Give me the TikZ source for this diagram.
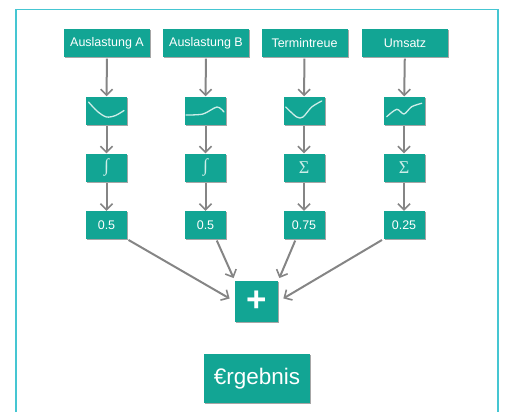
\documentclass[tikz,border=0pt]{standalone}
\usepackage{fontspec}
\setmainfont{Liberation Sans}
\newfontfamily\symfont{Liberation Serif}
\usetikzlibrary{arrows.meta,shadows}
\definecolor{boxteal}{HTML}{12A594}
\definecolor{frameblue}{HTML}{45C6D2}
\definecolor{arrowgray}{HTML}{858585}
\definecolor{curvelight}{HTML}{CDEDE8}
\tikzset{
  tealbox/.style={fill=boxteal,text=white,inner sep=0pt,drop shadow={shadow xshift=1pt,shadow yshift=-1pt,fill=black,opacity=0.35}},
  kpibox/.style={tealbox,minimum width=86pt,minimum height=28pt,font=\fontsize{12.5}{14}\selectfont},
  smallbox/.style={tealbox,minimum width=41pt,minimum height=28pt,font=\fontsize{12.5}{14}\selectfont},
  flow/.style={draw=arrowgray,line width=2pt,-{Straight Barb[length=6pt,width=12pt,line width=1.6pt]},shorten <=1.5pt},
  curveline/.style={draw=curvelight,line width=1.3pt,line cap=round}
}
\begin{document}
\begin{tikzpicture}[x=1pt,y=-1pt]
  \useasboundingbox (0,0) rectangle (505,412);
  \draw[frameblue,line width=1.3pt] (16,412)--(16,9.5)--(498,9.5)--(498,412);
  \foreach \i/\xk/\xs/\lab/\sym/\val in {1/107/106.5/Auslastung A/∫/0.5,
      2/206/205.5/Auslastung B/∫/0.5,
      3/304.5/304/Termintreue/Σ/0.75,
      4/405/404/Umsatz/Σ/0.25}{
    \node[kpibox] (kpi\i) at (\xk,43) {\lab};
    \node[smallbox] (curve\i) at (\xs,110.5) {};
    \node[smallbox,font=\symfont\fontsize{18}{20}\selectfont,text=curvelight] (calc\i) at (\xs,167.5) {\sym};
    \node[smallbox] (weight\i) at (\xs,225) {\val};
    \draw[flow] (kpi\i)--(curve\i);
    \draw[flow] (curve\i)--(calc\i);
    \draw[flow] (calc\i)--(weight\i);
  }
  \node[tealbox,minimum width=43pt,minimum height=41pt,font=\bfseries\fontsize{35}{36}\selectfont] (plus) at (256.5,301.5) {+};
  \node[tealbox,minimum width=106pt,minimum height=49pt,font=\fontsize{22.5}{24}\selectfont] (result) at (257,378.5) {€rgebnis};
  % arrows into the sum
  \draw[flow,shorten >=6pt] (weight1.south east)--(plus.west);
  \draw[flow,shorten >=3pt] (weight2.-53)--(plus.north west);
  \draw[flow,shorten >=3pt] (weight3.-120)--(plus.north east);
  \draw[flow,shorten >=6pt] (weight4.south west)--(plus.east);
  % curves
  \draw[curveline,shift={(curve1.center)}] plot[smooth] coordinates {(-18,-8.5) (-9,1) (0,6.5) (9,5) (17.5,0)};
  \draw[curveline,shift={(curve2.center)}] plot[smooth] coordinates {(-19.5,4.5) (-2.5,3.5) (11.5,-3.5) (18.5,1.5)};
  \draw[curveline,shift={(curve3.center)}] plot[smooth] coordinates {(-18.3,-3.5) (-7.3,6.5) (-1,6.5) (7.7,-3.5) (17.7,-9.5)};
  \draw[curveline,shift={(curve4.center)}] plot[smooth] coordinates {(-17.3,6.2) (-7.3,-1.2) (0,3.5) (7.7,-3.8) (17.7,-7.2)};
\end{tikzpicture}
\end{document}
